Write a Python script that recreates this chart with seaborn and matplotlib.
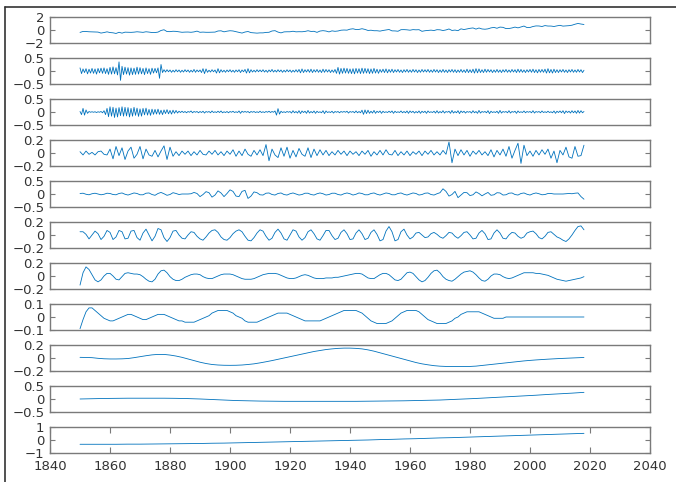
import numpy as np
import matplotlib
matplotlib.use('Agg')
import matplotlib.pyplot as plt
import seaborn as sns
from matplotlib.lines import Line2D

# time grids
half_years = np.arange(1850, 2018.01, 0.5)
years = np.arange(1850, 2019)
years2 = np.arange(1850, 2019, 2)
years4 = np.arange(1850, 2019, 4)

# original series (annual)
signal = [-0.37,-0.22,-0.23,-0.27,-0.29,-0.30,-0.32,-0.47,-0.39,-0.28,
          -0.39,-0.43,-0.53,-0.35,-0.48,-0.33,-0.34,-0.36,-0.33,-0.27,
          -0.32,-0.36,-0.27,-0.32,-0.39,-0.39,-0.32,-0.07,0.04,-0.24,
          -0.25,-0.19,-0.21,-0.28,-0.35,-0.32,-0.31,-0.35,-0.29,-0.17,
          -0.35,-0.32,-0.35,-0.35,-0.33,-0.32,-0.15,-0.12,-0.28,-0.18,
          -0.11,-0.15,-0.26,-0.37,-0.47,-0.31,-0.23,-0.40,-0.44,-0.48,
          -0.44,-0.44,-0.37,-0.35,-0.15,-0.10,-0.32,-0.44,-0.29,-0.27,
          -0.27,-0.19,-0.28,-0.26,-0.27,-0.22,-0.11,-0.22,-0.20,-0.36,
          -0.16,-0.10,-0.16,-0.29,-0.13,-0.20,-0.15,-0.03,0.00,-0.02,
          0.13,0.19,0.07,0.09,0.20,0.09,-0.07,-0.03,-0.11,-0.11,
          -0.17,-0.07,0.01,0.08,-0.13,-0.14,-0.19,0.05,0.06,0.03,
          -0.03,0.06,0.03,0.05,-0.20,-0.11,-0.06,-0.02,-0.08,0.05,
          0.03,-0.08,0.01,0.16,-0.07,-0.01,-0.10,0.18,0.07,0.16,
          0.26,0.32,0.14,0.31,0.16,0.12,0.18,0.33,0.40,0.27,
          0.45,0.41,0.22,0.23,0.32,0.45,0.33,0.47,0.61,0.38,
          0.39,0.54,0.63,0.62,0.54,0.68,0.61,0.61,0.54,0.64,
          0.72,0.60,0.63,0.67,0.74,0.89,1.01,0.92,0.85]

# IMF 1 (half-year steps)
imf1 = [0.12,-0.10,0.08,-0.06,0.09,-0.11,0.07,-0.08,0.10,-0.09,
        0.08,-0.12,0.10,-0.07,0.11,-0.09,0.12,-0.10,0.09,-0.13,
        0.14,-0.12,0.16,-0.11,0.13,-0.15,0.35,-0.36,0.18,-0.14,
        0.15,-0.12,0.13,-0.16,0.12,-0.14,0.11,-0.13,0.15,-0.12,
        0.13,-0.11,0.10,-0.14,0.12,-0.10,0.09,-0.13,0.11,-0.08,
        0.10,-0.07,0.12,-0.28,0.25,-0.06,0.05,-0.04,0.05,-0.03,
        0.04,-0.05,0.03,-0.04,0.05,-0.03,0.04,-0.05,0.03,-0.04,
        0.05,-0.03,0.04,-0.05,0.03,-0.04,0.06,-0.05,0.04,-0.03,
        0.04,-0.06,0.09,-0.10,0.08,-0.05,0.03,-0.04,0.05,-0.03,
        0.04,-0.08,0.09,-0.07,0.05,-0.04,0.03,-0.05,0.04,-0.03,
        0.05,-0.04,0.03,-0.05,0.04,-0.03,0.05,-0.06,0.04,-0.03,
        0.06,-0.08,0.09,-0.07,0.05,-0.04,0.03,-0.04,0.05,-0.03,
        0.04,-0.03,0.05,-0.04,0.03,-0.05,0.04,-0.03,0.06,-0.04,
        0.03,-0.04,0.05,-0.03,0.04,-0.05,0.03,-0.04,0.05,-0.03,
        0.04,-0.05,0.03,-0.04,0.05,-0.04,0.06,-0.07,0.08,-0.06,
        0.05,-0.04,0.06,-0.05,0.07,-0.06,0.05,-0.04,0.06,-0.05,
        0.04,-0.06,0.07,-0.05,0.06,-0.04,0.05,-0.06,0.04,-0.05,
        0.06,-0.09,0.14,-0.12,0.10,-0.09,0.11,-0.08,0.10,-0.09,
        0.08,-0.10,0.09,-0.11,0.10,-0.08,0.09,-0.10,0.11,-0.09,
        0.10,-0.08,0.09,-0.10,0.08,-0.09,0.10,-0.08,0.07,-0.09,
        0.06,-0.05,0.07,-0.06,0.08,-0.07,0.06,-0.05,0.07,-0.06,
        0.05,-0.04,0.06,-0.05,0.04,-0.06,0.05,-0.04,0.06,-0.05,
        0.04,-0.05,0.06,-0.04,0.05,-0.06,0.04,-0.05,0.06,-0.04,
        0.05,-0.04,0.06,-0.05,0.04,-0.05,0.06,-0.04,0.05,-0.06,
        0.04,-0.05,0.06,-0.05,0.04,-0.06,0.05,-0.04,0.06,-0.05,
        0.05,-0.06,0.04,-0.05,0.06,-0.05,0.04,-0.06,0.07,-0.06,
        0.05,-0.06,0.07,-0.08,0.09,-0.07,0.08,-0.06,0.05,-0.06,
        0.07,-0.05,0.06,-0.04,0.05,-0.06,0.04,-0.05,0.06,-0.05,
        0.04,-0.06,0.05,-0.04,0.06,-0.05,0.04,-0.05,0.06,-0.04,
        0.05,-0.06,0.07,-0.05,0.06,-0.05,0.04,-0.06,0.05,-0.04,
        0.06,-0.05,0.07,-0.06,0.05,-0.07,0.06,-0.05,0.06,-0.05,
        0.07,-0.08,0.09,-0.07,0.06,-0.08,0.07,-0.06,0.05,-0.06,
        0.05,-0.04,0.06,-0.05,0.04,-0.06,0.05,-0.04,0.06,-0.05,
        0.04,-0.05,0.06,-0.04,0.05,-0.06,0.03]

# IMF 2 (half-year steps)
imf2 = [0.02,-0.10,0.14,-0.12,0.08,-0.05,0.02,-0.01,0.01,-0.01,
        0.01,-0.02,0.01,-0.01,0.02,-0.03,0.05,-0.10,0.14,-0.18,
        0.20,-0.16,0.18,-0.21,0.15,-0.19,0.17,-0.14,0.20,-0.16,
        0.18,-0.15,0.17,-0.19,0.14,-0.16,0.18,-0.13,0.15,-0.17,
        0.12,-0.16,0.14,-0.11,0.15,-0.12,0.10,-0.13,0.11,-0.09,
        0.10,-0.08,0.11,-0.09,0.07,-0.10,0.08,-0.06,0.09,-0.07,
        0.06,-0.08,0.07,-0.05,0.06,-0.04,0.03,-0.02,0.03,-0.02,
        0.02,-0.03,0.02,-0.01,0.04,-0.03,0.02,-0.01,0.02,-0.03,
        0.02,-0.02,0.03,-0.04,0.02,-0.01,0.02,-0.03,0.04,-0.02,
        0.01,-0.02,0.03,-0.02,0.04,-0.03,0.01,-0.02,0.02,-0.03,
        0.02,-0.01,0.03,-0.02,0.01,-0.02,0.04,-0.05,0.03,-0.01,
        0.02,-0.01,0.02,-0.03,0.02,-0.01,0.02,-0.02,0.01,-0.02,
        0.03,-0.02,0.01,-0.02,0.02,-0.01,0.03,-0.02,0.02,-0.01,
        0.04,-0.12,0.13,-0.08,0.03,-0.02,0.01,-0.02,0.02,-0.01,
        0.02,-0.04,0.05,-0.03,0.02,-0.04,0.05,-0.06,0.04,-0.02,
        0.03,-0.05,0.06,-0.04,0.02,-0.03,0.04,-0.05,0.03,-0.02,
        0.01,-0.03,0.05,-0.06,0.04,-0.02,0.01,-0.02,0.03,-0.04,
        0.02,-0.01,0.02,-0.03,0.02,-0.01,0.02,-0.01,0.03,-0.04,
        0.02,-0.01,0.02,-0.03,0.04,-0.03,0.02,-0.03,0.07,-0.09,
        0.08,-0.06,0.07,-0.05,0.03,-0.04,0.06,-0.05,0.03,-0.02,
        0.04,-0.05,0.03,-0.02,0.01,-0.02,0.03,-0.02,0.04,-0.05,
        0.03,-0.02,0.01,-0.02,0.04,-0.03,0.02,-0.03,0.04,-0.05,
        0.04,-0.02,0.03,-0.04,0.02,-0.03,0.04,-0.05,0.03,-0.02,
        0.03,-0.05,0.04,-0.02,0.01,-0.02,0.03,-0.04,0.05,-0.04,
        0.02,-0.03,0.05,-0.04,0.02,-0.01,0.03,-0.05,0.06,-0.04,
        0.02,-0.03,0.05,-0.06,0.04,-0.02,0.03,-0.04,0.02,-0.01,
        0.02,-0.04,0.05,-0.03,0.02,-0.05,0.06,-0.04,0.02,-0.01,
        0.02,-0.03,0.05,-0.06,0.03,-0.02,0.01,-0.02,0.03,-0.05,
        0.06,-0.04,0.02,-0.01,0.02,-0.03,0.05,-0.04,0.02,-0.01,
        0.03,-0.05,0.04,-0.02,0.01,-0.02,0.04,-0.03,0.02,-0.01,
        0.02,-0.03,0.05,-0.04,0.02,-0.01,0.02,-0.03,0.04,-0.02,
        0.01,-0.02,0.03,-0.02,0.01,-0.03,0.04,-0.05,0.03,-0.02,
        0.04,-0.03,0.05,-0.06,0.04,-0.02,0.03,-0.04,0.05,-0.03,
        0.04,-0.05,0.06,-0.04,0.05,-0.03,0.02]

# IMF 3 (annual)
imf3 = [0.02,-0.03,0.03,-0.02,0.01,-0.03,0.02,0.03,-0.02,-0.03,
        0.06,-0.09,0.10,-0.04,0.08,-0.10,0.03,0.09,-0.08,-0.02,
        0.10,-0.09,0.06,-0.03,-0.05,0.04,-0.06,0.03,0.11,-0.10,
        0.09,-0.05,0.02,-0.04,0.03,-0.02,0.03,-0.04,0.02,-0.03,
        0.04,-0.02,-0.03,0.03,-0.02,0.04,-0.03,0.02,-0.04,0.03,
        -0.02,0.05,-0.05,0.03,-0.04,0.06,-0.02,-0.05,0.04,-0.03,
        0.05,-0.04,0.13,-0.12,0.06,-0.03,-0.07,0.08,-0.05,0.09,
        -0.08,0.04,-0.06,0.07,-0.02,-0.05,0.08,-0.07,0.06,-0.04,
        0.05,-0.03,0.04,-0.04,0.02,-0.03,0.04,-0.02,0.03,-0.04,
        0.03,-0.02,0.02,-0.04,0.03,-0.02,0.04,-0.05,0.02,-0.03,
        0.04,-0.03,0.05,-0.02,-0.03,0.04,-0.04,0.02,-0.03,0.03,
        -0.04,0.02,-0.02,0.03,-0.04,0.03,-0.02,0.04,-0.03,0.02,
        -0.03,0.04,-0.02,0.17,-0.15,0.06,-0.04,0.05,-0.03,0.04,
        -0.05,0.03,-0.02,0.04,-0.03,0.02,-0.04,0.05,-0.06,0.04,
        -0.03,0.06,-0.05,0.10,-0.08,0.04,0.15,-0.16,0.12,-0.04,
        0.03,-0.05,0.04,-0.03,0.05,-0.02,0.06,-0.08,0.03,-0.15,
        0.04,-0.03,0.09,-0.06,-0.08,0.10,-0.05,-0.04,0.12]

# IMF 4 (annual)
imf4 = [0.02,0.03,-0.01,-0.03,0.01,0.03,0.00,-0.03,-0.01,0.03,
        0.02,-0.02,-0.03,0.02,0.04,-0.01,-0.04,0.00,0.04,0.02,
        -0.03,-0.03,0.03,0.04,-0.02,-0.05,0.02,0.06,0.01,-0.05,
        -0.02,0.05,0.02,-0.02,0.00,0.00,0.00,0.01,0.06,0.02,
        -0.10,-0.02,0.09,0.05,-0.12,-0.04,0.12,0.04,-0.10,0.02,
        0.16,0.10,-0.08,-0.10,0.10,0.14,-0.17,-0.08,0.08,0.05,
        -0.03,-0.04,0.03,0.04,-0.02,-0.04,0.02,0.04,-0.02,-0.04,
        0.01,0.04,0.00,-0.04,-0.02,0.03,0.03,-0.02,-0.04,0.01,
        0.04,0.01,-0.04,-0.02,0.03,0.03,-0.02,-0.04,0.01,0.04,
        0.01,-0.04,-0.01,0.04,0.02,-0.03,-0.03,0.02,0.04,-0.01,
        -0.04,0.00,0.04,0.02,-0.03,-0.03,0.02,0.04,-0.01,-0.04,
        0.00,0.04,0.02,-0.04,-0.02,0.03,0.04,-0.02,-0.04,0.01,
        0.05,0.20,0.10,-0.08,-0.02,0.10,-0.14,-0.04,0.06,0.05,
        -0.06,-0.03,0.08,0.02,-0.07,0.00,0.06,-0.05,-0.03,0.05,
        0.04,-0.04,-0.03,0.03,0.04,-0.02,-0.04,0.02,0.04,-0.01,
        -0.04,0.01,0.04,0.01,-0.03,-0.02,0.02,0.02,0.00,0.00,
        0.00,0.00,0.01,0.02,0.01,0.03,0.04,-0.10,-0.20]

# IMF 5 (annual)
imf5 = [0.05,0.05,0.01,-0.06,0.00,0.06,0.02,-0.07,-0.02,0.07,
        0.04,-0.07,-0.03,0.07,0.05,-0.06,-0.05,0.06,0.07,-0.04,
        -0.08,0.03,0.09,0.00,-0.09,-0.02,0.10,0.08,-0.04,-0.10,
        -0.04,0.06,0.07,0.00,-0.05,-0.06,0.00,0.05,0.04,-0.02,
        -0.06,-0.08,-0.03,0.03,0.07,0.08,0.04,-0.03,-0.07,-0.08,
        -0.04,0.02,0.06,0.08,0.05,-0.02,-0.08,-0.09,-0.04,0.03,
        0.08,0.06,-0.02,-0.08,-0.05,0.04,0.09,0.03,-0.06,-0.08,
        0.00,0.08,0.06,-0.03,-0.08,-0.04,0.05,0.08,0.02,-0.06,
        -0.08,-0.01,0.07,0.07,-0.01,-0.07,-0.05,0.04,0.08,0.02,
        -0.07,-0.06,0.03,0.08,0.02,-0.07,-0.05,0.04,0.08,0.01,
        -0.09,-0.07,0.06,0.13,0.05,-0.09,-0.07,0.05,0.09,0.00,
        -0.06,-0.03,0.03,0.04,0.00,-0.04,-0.03,0.02,0.04,0.01,
        -0.03,-0.05,-0.01,0.04,0.03,-0.02,-0.05,-0.01,0.04,0.05,
        0.00,-0.06,-0.05,0.03,0.07,0.02,-0.07,-0.06,0.03,0.08,
        0.03,-0.05,-0.06,0.00,0.04,0.03,-0.02,-0.05,-0.03,0.03,
        0.05,0.06,0.02,-0.04,-0.06,-0.02,0.04,0.05,0.01,-0.03,
        -0.05,-0.08,-0.10,-0.06,0.00,0.07,0.13,0.14,0.08]

# IMF 6 (annual)
imf6 = [-0.14,0.05,0.14,0.10,0.02,-0.06,-0.09,-0.06,0.00,0.04,
        0.04,0.00,-0.05,-0.06,-0.01,0.04,0.05,0.04,0.03,0.03,
        0.02,-0.01,-0.05,-0.08,-0.09,-0.05,0.03,0.08,0.09,0.05,
        -0.01,-0.05,-0.07,-0.07,-0.05,-0.02,0.00,0.02,0.03,0.03,
        0.02,-0.01,-0.03,-0.04,-0.04,-0.02,0.00,0.02,0.03,0.03,
        0.03,0.02,0.00,-0.02,-0.04,-0.05,-0.05,-0.05,-0.04,-0.02,
        0.00,0.02,0.03,0.04,0.04,0.04,0.03,0.01,-0.01,-0.03,
        -0.04,-0.04,-0.03,-0.01,0.01,0.02,0.01,-0.01,-0.03,-0.04,
        -0.04,-0.04,-0.03,-0.03,-0.03,-0.02,-0.02,-0.01,0.00,0.01,
        0.02,0.03,0.04,0.04,0.03,0.00,-0.03,-0.04,-0.04,-0.01,
        0.02,0.04,0.04,0.02,-0.02,-0.06,-0.07,-0.05,0.00,0.05,
        0.06,0.04,-0.01,-0.06,-0.09,-0.07,-0.02,0.04,0.08,0.09,
        0.05,-0.01,-0.05,-0.07,-0.08,-0.05,-0.01,0.03,0.06,0.07,
        0.08,0.06,0.02,-0.03,-0.07,-0.08,-0.05,0.00,0.03,0.03,
        0.02,-0.01,-0.03,-0.04,-0.03,-0.01,0.01,0.03,0.05,0.05,
        0.05,0.05,0.04,0.04,0.03,0.02,0.01,-0.01,-0.03,-0.05,
        -0.06,-0.07,-0.08,-0.07,-0.06,-0.05,-0.04,-0.03,-0.01]

# IMF 7 (annual)
imf7 = [-0.09,-0.02,0.04,0.07,0.07,0.05,0.03,0.01,-0.01,-0.02,
        -0.03,-0.03,-0.02,-0.01,0.00,0.01,0.02,0.02,0.01,0.00,
        -0.01,-0.02,-0.02,-0.01,0.00,0.01,0.02,0.02,0.02,0.01,
        0.00,-0.01,-0.02,-0.03,-0.03,-0.04,-0.04,-0.04,-0.04,-0.03,
        -0.02,-0.01,0.00,0.01,0.03,0.04,0.05,0.05,0.05,0.05,
        0.04,0.03,0.01,0.00,-0.01,-0.03,-0.04,-0.04,-0.04,-0.04,
        -0.03,-0.02,-0.01,0.00,0.01,0.02,0.03,0.03,0.03,0.03,
        0.02,0.01,0.00,-0.01,-0.02,-0.03,-0.03,-0.03,-0.03,-0.03,
        -0.03,-0.02,-0.01,0.00,0.01,0.02,0.03,0.04,0.05,0.05,
        0.05,0.05,0.05,0.04,0.03,0.01,-0.01,-0.03,-0.04,-0.05,
        -0.05,-0.05,-0.05,-0.04,-0.03,-0.01,0.01,0.03,0.04,0.05,
        0.05,0.05,0.05,0.04,0.02,0.00,-0.02,-0.03,-0.04,-0.05,
        -0.05,-0.05,-0.05,-0.04,-0.03,-0.01,0.00,0.02,0.03,0.04,
        0.04,0.04,0.04,0.04,0.03,0.02,0.01,0.00,-0.01,-0.01,
        -0.01,-0.01,0.00,0.00,0.00,0.00,0.00,0.00,0.00,0.00,
        0.00,0.00,0.00,0.00,0.00,0.00,0.00,0.00,0.00,0.00,
        0.00,0.00,0.00,0.00,0.00,0.00,0.00,0.00,0.00]

# IMF 8 (every 2 years)
imf8 = [0.010,0.008,0.005,-0.005,-0.012,-0.015,-0.015,-0.013,-0.008,0.005,
        0.020,0.035,0.048,0.055,0.055,0.045,0.030,0.010,-0.015,-0.040,
        -0.065,-0.085,-0.100,-0.108,-0.112,-0.113,-0.112,-0.108,-0.100,-0.090,
        -0.075,-0.058,-0.040,-0.020,0.000,0.020,0.040,0.060,0.080,0.100,
        0.115,0.130,0.140,0.148,0.152,0.152,0.148,0.140,0.125,0.105,
        0.080,0.055,0.030,0.005,-0.020,-0.045,-0.070,-0.090,-0.105,-0.118,
        -0.126,-0.130,-0.132,-0.132,-0.132,-0.130,-0.125,-0.115,-0.105,-0.095,
        -0.085,-0.075,-0.065,-0.055,-0.045,-0.037,-0.030,-0.024,-0.018,-0.013,
        -0.008,-0.004,0.000,0.004,0.008]

# IMF 9 (every 4 years)
imf9 = [0.00,0.01,0.02,0.025,0.03,0.03,0.03,0.03,0.025,0.015,
        0.00,-0.02,-0.04,-0.06,-0.07,-0.08,-0.085,-0.09,-0.09,-0.09,
        -0.09,-0.09,-0.09,-0.09,-0.085,-0.08,-0.075,-0.07,-0.06,-0.05,
        -0.04,-0.02,0.00,0.02,0.045,0.07,0.095,0.12,0.145,0.175,
        0.20,0.225,0.255]

# residual trend (every 4 years)
resid = [-0.33,-0.33,-0.33,-0.33,-0.32,-0.32,-0.31,-0.30,-0.29,-0.28,
         -0.27,-0.25,-0.24,-0.22,-0.20,-0.18,-0.16,-0.14,-0.12,-0.10,
         -0.08,-0.06,-0.04,-0.02,0.00,0.03,0.05,0.08,0.10,0.13,
         0.16,0.18,0.21,0.24,0.27,0.30,0.33,0.36,0.39,0.42,
         0.45,0.48,0.51]

limits = [2, 0.5, 0.5, 0.2, 0.5, 0.2, 0.2, 0.1, 0.2, 0.5, 1]
panels = [(years, signal), (half_years, imf1), (half_years, imf2),
          (years, imf3), (years, imf4), (years, imf5), (years, imf6),
          (years, imf7), (years2, imf8), (years4, imf9), (years4, resid)]

sns.set_style('white')
plt.rcParams['font.family'] = ['DejaVu Sans']

line_col = '#0072BD'
spine_col = '#7a7a7a'

fig, axes = plt.subplots(11, 1, figsize=(6.76, 4.82), dpi=100)
fig.subplots_adjust(left=0.074, right=0.9615, top=0.9647, bottom=0.0602, hspace=0.577)

for i, (ax, (x, y), lim) in enumerate(zip(axes, panels, limits)):
    assert len(x) == len(y), (i, len(x), len(y))
    sns.lineplot(x=x, y=y, ax=ax, color=line_col, linewidth=0.6, estimator=None)
    ax.set_xlim(1840, 2040)
    ax.set_ylim(-lim, lim)
    ax.set_yticks([-lim, 0, lim])
    ax.set_yticklabels(['\u2212%g' % lim, '0', '%g' % lim])
    ax.set_xlabel('')
    ax.set_ylabel('')
    for s in ax.spines.values():
        s.set_visible(True)
        s.set_color(spine_col)
        s.set_linewidth(1.0)
    ax.tick_params(axis='y', direction='in', length=3.5, width=0.8,
                   left=True, right=True, color=spine_col,
                   labelcolor='#333333', labelsize=9.5, pad=4)
    if i < len(axes) - 1:
        ax.tick_params(axis='x', bottom=False, top=False, labelbottom=False)
    else:
        ax.set_xticks(range(1840, 2041, 20))
        ax.tick_params(axis='x', direction='in', length=4, width=0.8,
                       bottom=True, top=True, color=spine_col,
                       labelcolor='#333333', labelsize=9.5, pad=5)

# screenshot frame on the left and top edges
fig.add_artist(Line2D([0.0074, 0.0074], [0, 0.9855], transform=fig.transFigure,
                      color='#333333', linewidth=1.2))
fig.add_artist(Line2D([0.0074, 1.0], [0.9855, 0.9855], transform=fig.transFigure,
                      color='#333333', linewidth=1.2))

fig.savefig('out.png', dpi=100)
